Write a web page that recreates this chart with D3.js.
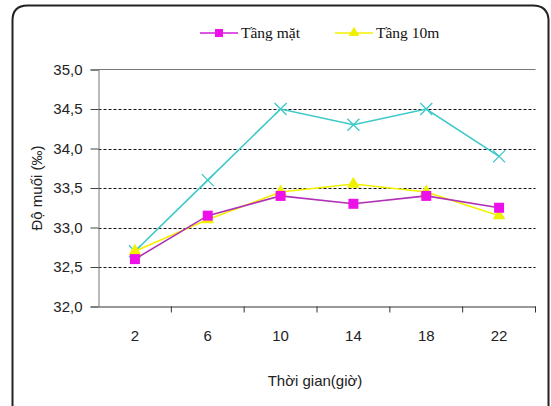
<!DOCTYPE html>
<html>
<head>
<meta charset="utf-8">
<script src="https://cdn.jsdelivr.net/npm/d3@7"></script>
<style>
  html, body { margin: 0; padding: 0; background: #fff; }
  svg { display: block; }
  .axis-text { font-family: "Liberation Sans Narrow", "Arial Narrow", "Liberation Sans", Arial, sans-serif; font-size: 15px; fill: #222; }
  .legend-text { font-family: "Liberation Serif", "Times New Roman", serif; font-size: 15.5px; fill: #111; }
</style>
</head>
<body>
<svg id="chart" width="551" height="406"></svg>
<script>
// Salinity by hour of day, three depth layers
const hours = ["2", "6", "10", "14", "18", "22"];
const surface = [32.6, 33.15, 33.4, 33.3, 33.4, 33.25];   // Tầng mặt
const depth10 = [32.7, 33.1, 33.45, 33.55, 33.45, 33.15]; // Tầng 10m
const bottom = [32.7, 33.6, 34.5, 34.3, 34.5, 33.9];      // third layer (not in legend)
const yTicks = [32.0, 32.5, 33.0, 33.5, 34.0, 34.5, 35.0];
const legendNames = ["Tầng mặt", "Tầng 10m"];

const svg = d3.select("#chart");

// Outer frame with rounded corners
svg.append("path")
  .attr("d", "M12.5,406 L12.5,20.5 Q12.5,5.5 27.5,5.5 L533,5.5 Q547,5.5 548.5,19 L548.5,406")
  .attr("fill", "none").attr("stroke", "#222").attr("stroke-width", 2);

const plot = { left: 98.5, right: 535.5, top: 69.5, bottom: 306.5 };

const x = d3.scaleBand().domain(hours).range([plot.left, plot.right]);
const y = d3.scaleLinear().domain([32, 35]).range([plot.bottom, plot.top]);

// Dashed gridlines
svg.append("g").selectAll("line")
  .data(yTicks.filter(v => v > 32 && v < 35))
  .join("line")
  .attr("x1", plot.left).attr("x2", plot.right)
  .attr("y1", d => Math.round(y(d)) + 0.5).attr("y2", d => Math.round(y(d)) + 0.5)
  .attr("stroke", "#111").attr("stroke-dasharray", "3,2");

// Top border of plot area
svg.append("line")
  .attr("x1", plot.left).attr("x2", plot.right)
  .attr("y1", plot.top).attr("y2", plot.top)
  .attr("stroke", "#777");

// Y axis
const yAxis = svg.append("g")
  .attr("transform", `translate(${plot.left},0)`)
  .call(d3.axisLeft(y).tickValues(yTicks).tickSize(8).tickPadding(8)
    .tickFormat(d => d3.format(".1f")(d).replace(".", ",")));
yAxis.select(".domain").attr("stroke", "#777");
yAxis.selectAll(".tick line").attr("stroke", "#444");
yAxis.selectAll("text").attr("class", "axis-text").attr("fill", null).attr("font-size", null).attr("font-family", null);

// X axis with ticks at category boundaries
const xAxis = svg.append("g")
  .attr("transform", `translate(0,${plot.bottom})`)
  .call(d3.axisBottom(x).tickSize(0).tickPadding(24));
xAxis.select(".domain").attr("stroke", "#333");
xAxis.selectAll("text").attr("class", "axis-text").attr("fill", null).attr("font-size", null).attr("font-family", null);
xAxis.selectAll(".boundary")
  .data(hours)
  .join("line")
  .attr("x1", d => x(d) + x.bandwidth()).attr("x2", d => x(d) + x.bandwidth())
  .attr("y1", 0).attr("y2", 6)
  .attr("stroke", "#333");

// Axis titles
svg.append("text").attr("class", "axis-text")
  .attr("x", (plot.left + plot.right) / 2 - 2).attr("y", 386)
  .attr("text-anchor", "middle").text("Thời gian(giờ)");
svg.append("text").attr("class", "axis-text")
  .attr("transform", `translate(42,${(plot.top + plot.bottom) / 2}) rotate(-90)`)
  .attr("text-anchor", "middle").text("Độ muối (‰)");

const cx = d => x(d) + x.bandwidth() / 2;
const line = values => d3.line().x((d, i) => cx(hours[i])).y(d => y(d))(values);

const series = [
  { values: bottom, line: "#3cc8c8", marker: "cross", fill: "#3cc8c8" },
  { values: depth10, line: "#f4f000", marker: "triangle", fill: "#f0f000" },
  { values: surface, line: "#b030b8", marker: "square", fill: "#ee10e8" }
];

const symbolFor = {
  square: d3.symbol().type(d3.symbolSquare).size(100),
  triangle: d3.symbol().type(d3.symbolTriangle).size(70)
};

series.forEach(s => {
  svg.append("path").attr("d", line(s.values))
    .attr("fill", "none").attr("stroke", s.line).attr("stroke-width", 1.6);
  const g = svg.append("g");
  s.values.forEach((v, i) => {
    const px = cx(hours[i]), py = y(v);
    if (s.marker === "cross") {
      g.append("path")
        .attr("d", `M${px - 6},${py - 6}L${px + 6},${py + 6}M${px - 6},${py + 6}L${px + 6},${py - 6}`)
        .attr("stroke", s.fill).attr("stroke-width", 1.3).attr("fill", "none");
    } else {
      g.append("path").attr("d", symbolFor[s.marker]())
        .attr("transform", `translate(${px},${py})`)
        .attr("fill", s.fill);
    }
  });
});

// Legend
const legendItems = [
  { name: legendNames[0], x: 200, color: "#d020d8", fill: "#ee10e8", marker: "square" },
  { name: legendNames[1], x: 335, color: "#f4f000", fill: "#f0f000", marker: "triangle" }
];
legendItems.forEach(it => {
  const ly = 33;
  svg.append("line").attr("x1", it.x).attr("x2", it.x + 38)
    .attr("y1", ly).attr("y2", ly).attr("stroke", it.color).attr("stroke-width", 1.6);
  svg.append("path").attr("d", (it.marker === "square" ? d3.symbol().type(d3.symbolSquare).size(64) : d3.symbol().type(d3.symbolTriangle).size(50))())
    .attr("transform", `translate(${it.x + 19},${ly})`).attr("fill", it.fill);
  svg.append("text").attr("class", "legend-text")
    .attr("x", it.x + 41).attr("y", ly + 5).text(it.name);
});
</script>
</body>
</html>
